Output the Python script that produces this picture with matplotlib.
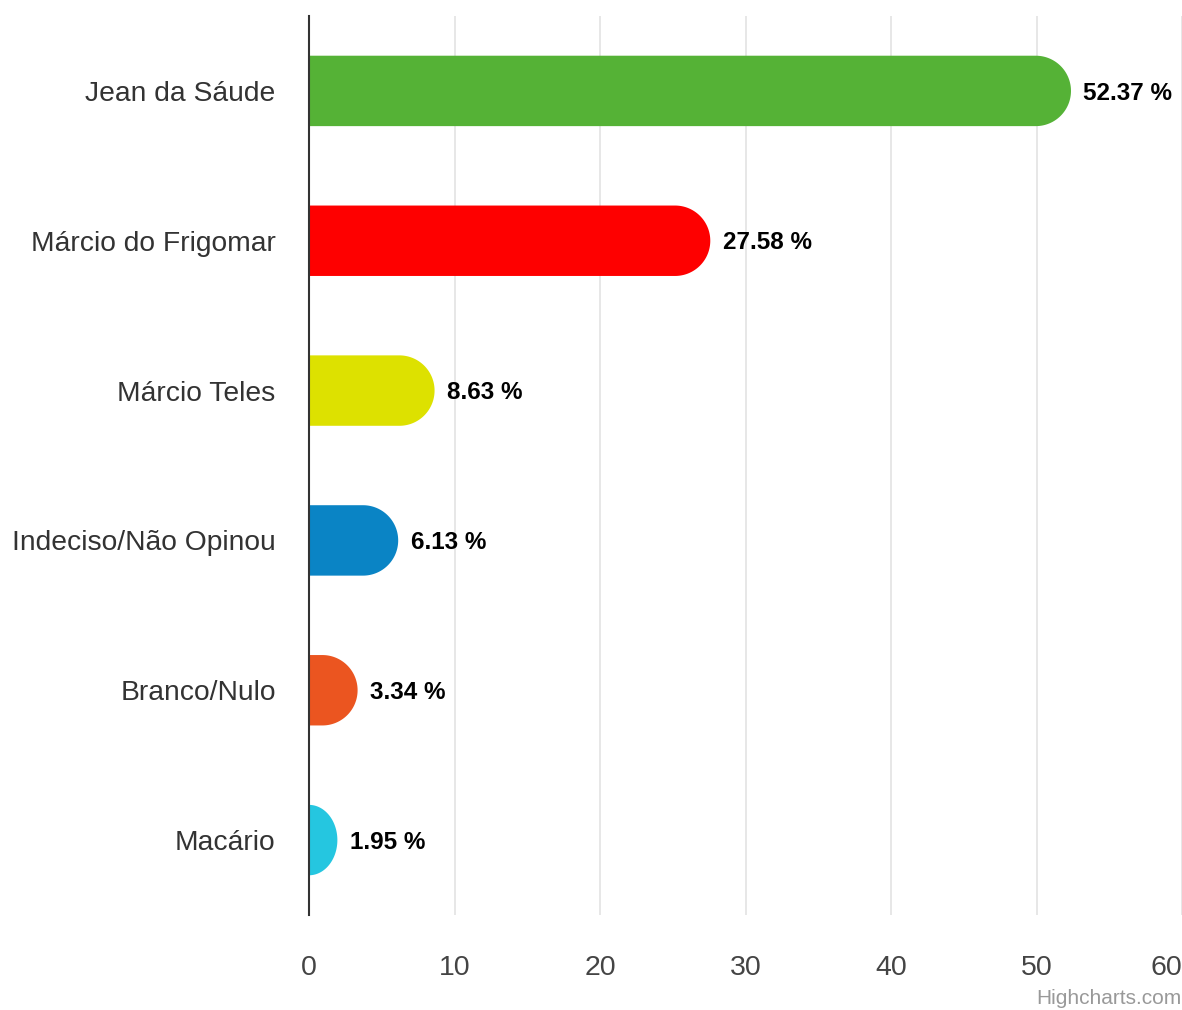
import numpy as np
import matplotlib
matplotlib.use("Agg")
import matplotlib.pyplot as plt
from matplotlib.patches import Polygon

# --- DATA ---
candidates = ["Jean da Sáude", "Márcio do Frigomar", "Márcio Teles",
              "Indeciso/Não Opinou", "Branco/Nulo", "Macário"]
values = [52.37, 27.58, 8.63, 6.13, 3.34, 1.95]
colors = ["#55b236", "#fe0000", "#dde100", "#0a84c5", "#eb5520", "#25c6e0"]
x_ticks = [0, 10, 20, 30, 40, 50, 60]

W, H, DPI = 1182, 1010, 100
BAR_H = 0.47  # in category units

plt.rcParams['font.family'] = ['Liberation Sans', 'DejaVu Sans']

fig = plt.figure(figsize=(W / DPI, H / DPI), dpi=DPI)
ax = fig.add_axes([309 / W, 1 - 915 / H, (W - 309) / W, (915 - 16) / H])
ax.set_xlim(0, 60)
ax.set_ylim(len(candidates) - 0.5, -0.5)

# pixels per data unit, so the rounded end comes out as a real half circle
px_per_x = ax.bbox.width / 60
px_per_y = ax.bbox.height / len(candidates)
rx = (BAR_H * px_per_y / 2) / px_per_x

for i, (v, c) in enumerate(zip(values, colors)):
    a = min(rx, v)           # horizontal semi-axis of the cap
    x0 = max(v - rx, 0)      # where the straight part stops
    t = np.linspace(-np.pi / 2, np.pi / 2, 80)
    arc = np.column_stack([x0 + a * np.cos(t), i + (BAR_H / 2) * np.sin(t)])
    pts = np.vstack([[0, i - BAR_H / 2], arc, [0, i + BAR_H / 2]])
    ax.add_patch(Polygon(pts, closed=True, facecolor=c, edgecolor='none', zorder=3))
    ax.text(v + 0.85, i + 0.015, f"{v:.2f} %", va='center', ha='left',
            fontsize=17.5, fontweight='bold', color='black', zorder=4)

ax.set_yticks(range(len(candidates)))
ax.set_yticklabels(candidates, fontsize=20.3, color='#333333')
ax.tick_params(axis='y', length=0, pad=24)

ax.set_xticks(x_ticks)
ax.set_xticklabels([str(t) for t in x_ticks], fontsize=20.5, color='#444444')
ax.tick_params(axis='x', length=0, pad=29)
# last label is pushed inside the chart, like Highcharts does
ax.get_xticklabels()[-1].set_horizontalalignment('right')

ax.grid(True, axis='x', color='#e3e3e3', linewidth=1.2, zorder=0)
ax.set_axisbelow(True)
for s in ['top', 'right', 'bottom']:
    ax.spines[s].set_visible(False)
ax.spines['left'].set_color('#333333')
ax.spines['left'].set_linewidth(1.5)
ax.spines['left'].set_zorder(5)

fig.text(1.0, 1 - 998 / H, "Highcharts.com", ha='right', va='center',
         fontsize=15, color='#999999')

fig.savefig("out.png", dpi=DPI)
